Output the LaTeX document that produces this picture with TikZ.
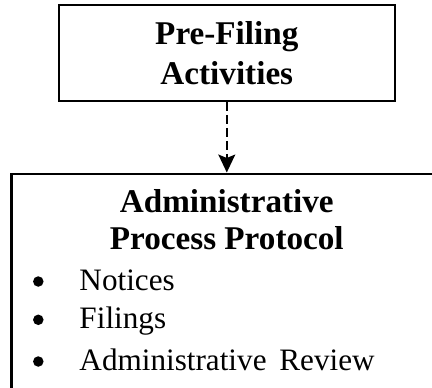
\documentclass[tikz,border=0pt]{standalone}
\usepackage{fontspec}
\setmainfont{Liberation Serif}
\usetikzlibrary{arrows.meta}

\tikzset{
  framebox/.style={draw=black, line width=2bp, rectangle, inner sep=0pt},
  titletext/.style={font=\bfseries\fontsize{33.3}{40.5}\selectfont, align=center},
  headline/.style={font=\bfseries\fontsize{33.3}{40}\selectfont, anchor=base, inner sep=0pt},
  itemtext/.style={font=\fontsize{31.3}{38}\selectfont, anchor=base west, inner sep=0pt},
  dot/.style={circle, fill=black, minimum size=10.5bp, inner sep=0pt},
  dasharrow/.style={line width=1.4bp, dash pattern=on 9bp off 4bp,
    -{Stealth[length=18bp, width=17bp, inset=3.5bp]}}
}

\begin{document}
\begin{tikzpicture}[x=1bp, y=-1bp]
  \useasboundingbox (0,0) rectangle (432,388);
  \clip (0,0) rectangle (432,388);

  % upper step
  \node[framebox, titletext, minimum width=336bp, minimum height=95.5bp]
    (prefiling) at (226.8,53) {Pre-Filing\\Activities};

  % lower step: its frame runs on past the right and bottom edges
  \node[framebox, anchor=north west, minimum width=520bp, minimum height=320bp]
    (protocol) at (10.5,172.5) {};

  \node[headline] (protoA) at (226.8,212) {Administrative};
  \node[headline] (protoB) at (226.8,249.5) {Process Protocol};

  \node[dot] (b1) at (38.3,281.5) {};
  \node[dot] (b2) at (38.3,319.8) {};
  \node[dot] (b3) at (38.3,361.5) {};
  \node[itemtext] (notices) at (79.3,290) {Notices};
  \node[itemtext] (filings) at (79.3,328.3) {Filings};
  \node[itemtext] (review) at (79.3,370) {Administrative\ \hspace{5bp}Review};

  % connector
  \draw[dasharrow] (prefiling.south) -- (prefiling.south |- protocol.north);
\end{tikzpicture}
\end{document}
